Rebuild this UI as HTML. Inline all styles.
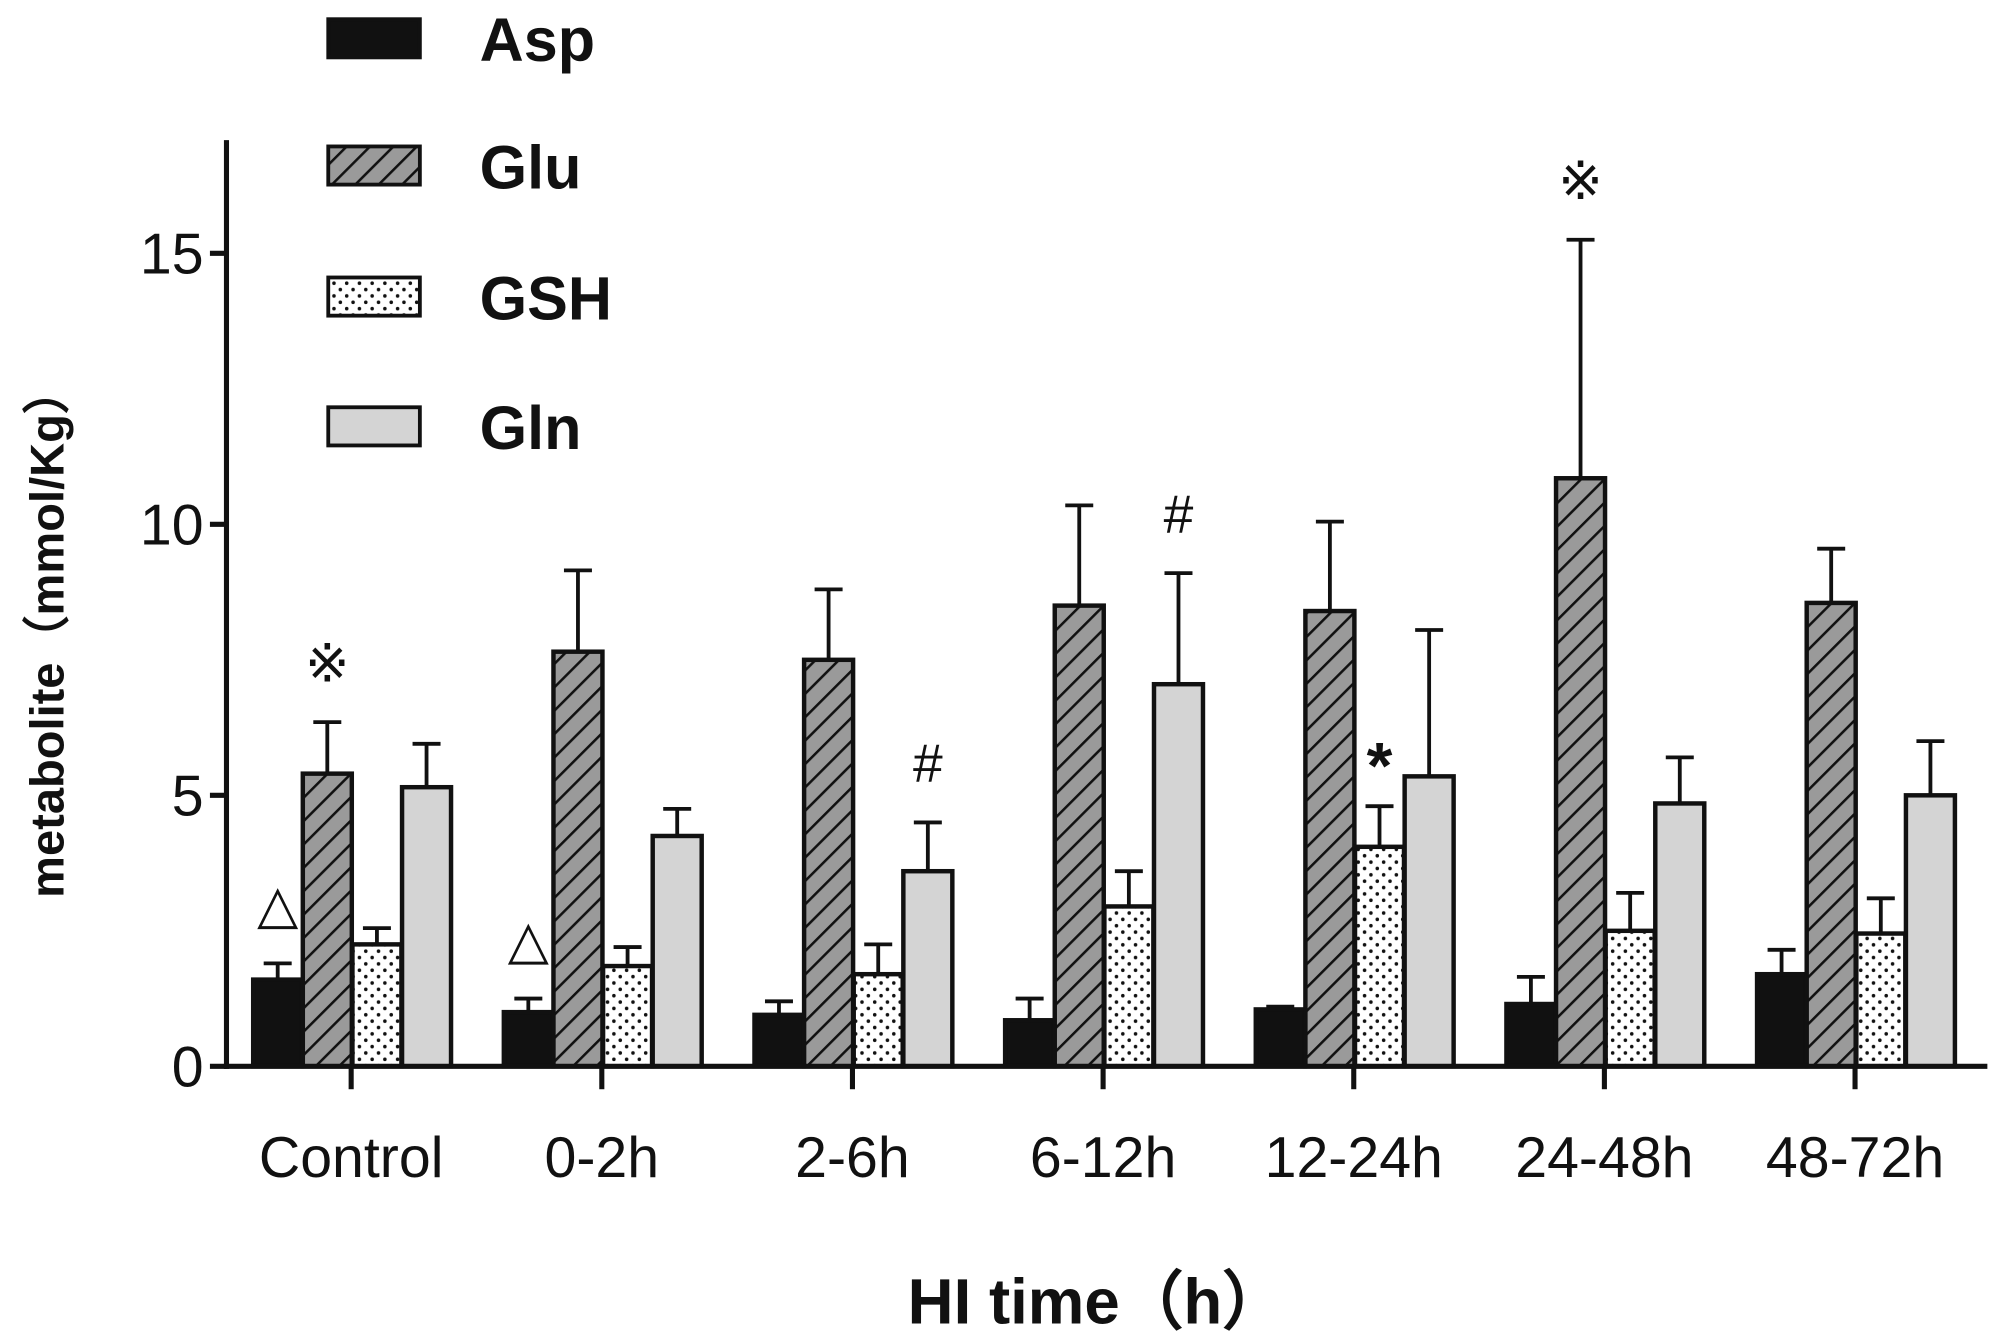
<!DOCTYPE html>
<html><head><meta charset="utf-8"><style>
html,body{margin:0;padding:0;background:#fff;}
svg{display:block;}
text{font-family:"Liberation Sans",Arial,sans-serif;}
</style></head><body>
<svg id="chart" width="1995" height="1340" viewBox="0 0 1568 1053" xmlns="http://www.w3.org/2000/svg">
<defs>
<pattern id="hatch" patternUnits="userSpaceOnUse" width="13" height="13" patternTransform="rotate(45)">
<rect width="13" height="13" fill="#9a9a9a"/><line x1="0" y1="0" x2="0" y2="13" stroke="#111" stroke-width="4"/></pattern>
<pattern id="dots" patternUnits="userSpaceOnUse" width="10" height="10">
<rect width="10" height="10" fill="#fff"/><circle cx="2.5" cy="2.5" r="1.4" fill="#111"/><circle cx="7.5" cy="7.5" r="1.4" fill="#111"/></pattern>
</defs>
<g id="marks"></g>
</svg>
<script>
const categories=["Control","0-2h","2-6h","6-12h","12-24h","24-48h","48-72h"];
const seriesNames=["Asp","Glu","GSH","Gln"];
const asp=[1.6,1.0,0.95,0.85,1.05,1.15,1.7];
const aspErr=[1.9,1.25,1.2,1.25,1.1,1.65,2.15];
const glu=[5.4,7.65,7.5,8.5,8.4,10.85,8.55];
const gluErr=[6.35,9.15,8.8,10.35,10.05,15.25,9.55];
const gsh=[2.25,1.85,1.7,2.95,4.05,2.5,2.45];
const gshErr=[2.55,2.2,2.25,3.6,4.8,3.2,3.1];
const gln=[5.15,4.25,3.6,7.05,5.35,4.85,5.0];
const glnErr=[5.95,4.75,4.5,9.1,8.05,5.7,6.0];
const yTicks=[0,5,10,15];
const annotations=[[0,0,"△"],[0,1,"※"],[1,0,"△"],[2,3,"#"],[3,3,"#"],[4,2,"*"],[5,1,"※"]];

const NS="http://www.w3.org/2000/svg";
const g=document.getElementById('marks');
function el(t,a,txt){const e=document.createElementNS(NS,t);for(const k in a)e.setAttribute(k,a[k]);if(txt!==undefined)e.textContent=txt;g.appendChild(e);return e;}
const x0=178,y0=838,unit=(838-199)/15,gap=197,first=276,bw=38.5;
const Y=v=>y0-v*unit;
const center=i=>first+i*gap;
const barX=(i,s)=>center(i)-77+s*bw+s*0.5;
const fills=["#111","url(#hatch)","url(#dots)","#d4d4d4"];
const vals=[asp,glu,gsh,gln],errs=[aspErr,gluErr,gshErr,glnErr];
categories.forEach((c,i)=>{
  vals.forEach((arr,s)=>{
    const x=barX(i,s),top=Y(arr[i]);
    const eb=el('line',{x1:x+bw/2,x2:x+bw/2,y1:top,y2:Y(errs[s][i]),stroke:'#111','stroke-width':3});
    
    
    const cap=el('line',{x1:x+bw/2-11,x2:x+bw/2+11,y1:Y(errs[s][i]),y2:Y(errs[s][i]),stroke:'#111','stroke-width':3});
    
    
    const r=el('rect',{x:x,y:top,width:bw,height:y0-top,fill:fills[s],stroke:'#111','stroke-width':3.5});
    
    
  });
  const tk=el('line',{x1:center(i),x2:center(i),y1:y0,y2:856,stroke:'#111','stroke-width':4});
  
  
  const t=el('text',{x:center(i),y:925,'font-size':45,'text-anchor':'middle',fill:'#111'},c);
  
  
});
annotations.forEach(([i,s,sym])=>{
  const x=barX(i,s)+bw/2,yy=Y(errs[s][i])-(sym==="*"?14:32);
  const a=el('text',{x:x,y:yy,'font-size':sym==="*"?52:42,'text-anchor':'middle',fill:'#111','font-weight':sym==="*"?'bold':'normal','font-family':'"DejaVu Sans","Noto Sans CJK SC",sans-serif'},sym);
  
  
});
yTicks.forEach(v=>{
  const l=el('line',{x1:165,x2:x0,y1:Y(v),y2:Y(v),stroke:'#111','stroke-width':4});
  
  
  const t=el('text',{x:160,y:Y(v)+16,'font-size':45,'text-anchor':'end',fill:'#111'},v);
  
  
});
const ya=el('line',{x1:x0,x2:x0,y1:110,y2:y0+2,stroke:'#111','stroke-width':4});


const xa=el('line',{x1:x0-2,x2:1562,y1:y0,y2:y0,stroke:'#111','stroke-width':4});


const yt=el('text',{x:0,y:0,'font-size':37,'font-weight':'bold','text-anchor':'middle',fill:'#111',transform:'translate(50,497) rotate(-90)','font-family':'"Liberation Sans","Noto Sans CJK SC",sans-serif'},'metabolite（mmol/Kg）');


const xt=el('text',{x:862,y:1040,'font-size':50,'font-weight':'bold','text-anchor':'middle',fill:'#111','font-family':'"Liberation Sans","Noto Sans CJK SC",sans-serif'},'HI time（h）');


const legY=[15,115,218,320];
seriesNames.forEach((n,s)=>{
  const r=el('rect',{x:258,y:legY[s],width:72,height:30,fill:fills[s],stroke:'#111','stroke-width':3});
  
  
  const t=el('text',{x:377,y:legY[s]+33,'font-size':48,'font-weight':'bold',fill:'#111'},n);
  
  
});
</script>
</body></html>
